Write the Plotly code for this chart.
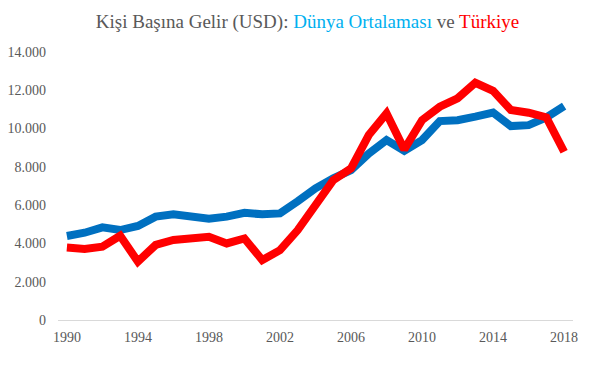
import plotly.graph_objects as go

years = list(range(1990, 2019))
dunya = [4390, 4560, 4840, 4700, 4910, 5400, 5520, 5400, 5290, 5400, 5600, 5520, 5570,
         6200, 6880, 7400, 7830, 8700, 9400, 8840, 9400, 10390, 10440, 10620, 10830,
         10130, 10180, 10580, 11170]
turkiye = [3790, 3710, 3830, 4400, 3050, 3920, 4180, 4300, 4350, 4000, 4260, 3130, 3650,
           4700, 5920, 7310, 7920, 9660, 10790, 8910, 10440, 11140, 11580, 12390, 11970,
           10970, 10830, 10580, 8790]
xticks = [1990, 1994, 1998, 2002, 2006, 2010, 2014, 2018]
yticks = [0, 2000, 4000, 6000, 8000, 10000, 12000, 14000]

serif = "Liberation Serif, Times New Roman, serif"
gray = "#595959"

fig = go.Figure()
fig.add_trace(go.Scatter(x=years, y=dunya, mode="lines", name="Dünya Ortalaması",
                         line=dict(color="#0070C0", width=8)))
fig.add_trace(go.Scatter(x=years, y=turkiye, mode="lines", name="Türkiye",
                         line=dict(color="#FF0000", width=8)))

# page body has an 8px default margin, so the figure is offset by 8px
W, H = 599, 359
fig.update_layout(
    width=W, height=H,
    margin=dict(l=50, r=34, t=44, b=47),
    paper_bgcolor="white", plot_bgcolor="white",
    showlegend=False,
    separators=",.",
    title=dict(
        text="Kişi Başına Gelir (USD): <span style='color:#00B0F0'>Dünya Ortalaması</span> ve <span style='color:#FF0000'>Türkiye</span>",
        x=0.5, xanchor="center", y=1 - 13 / H, yanchor="middle",
        font=dict(family=serif, size=19, color=gray),
    ),
    font=dict(family=serif, size=14, color=gray),
)
fig.update_xaxes(range=[1989.5, 2018.5], tickvals=xticks, showgrid=False, zeroline=False,
                 showline=True, linecolor="#D9D9D9", linewidth=1, ticks="", automargin=False,
                 ticklabelstandoff=4, tickfont=dict(family=serif, size=14, color=gray))
fig.update_yaxes(range=[0, 14000], tickvals=yticks, tickformat=",.0f", showgrid=False,
                 zeroline=False, showline=False, ticks="", ticklabelstandoff=11, automargin=False,
                 tickfont=dict(family=serif, size=14, color=gray))

fig.write_html("out.html")
